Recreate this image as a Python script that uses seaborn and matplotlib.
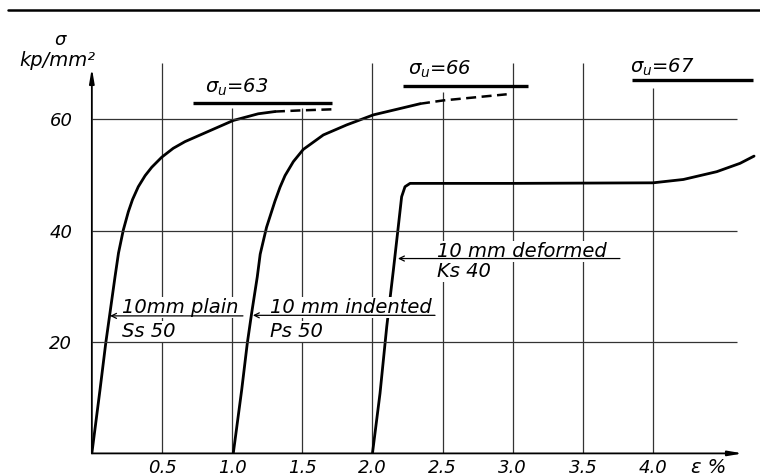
import matplotlib
matplotlib.use("Agg")
import matplotlib.pyplot as plt
from matplotlib.lines import Line2D
import numpy as np
import pandas as pd
import seaborn as sns

# ---------------- data ----------------
ss50_strain = [0, 0.058, 0.099, 0.129, 0.165, 0.19, 0.224, 0.26, 0.29, 0.331, 0.38, 0.427, 0.498, 0.58, 0.664, 0.854, 1.008, 1.186, 1.305]
ss50_stress = [0, 11.4, 19.8, 25.2, 31.7, 36.0, 40.1, 43.4, 45.6, 47.9, 49.9, 51.4, 53.2, 54.8, 56.0, 58.1, 59.8, 61.0, 61.4]
ss50_dash_strain = [1.305, 1.48, 1.71]
ss50_dash_stress = [61.4, 61.6, 61.8]

ps50_strain = [1.008, 1.068, 1.108, 1.139, 1.179, 1.2, 1.245, 1.305, 1.341, 1.377, 1.436, 1.507, 1.65, 1.816, 2.006, 2.173, 2.339]
ps50_stress = [0, 11.4, 19.8, 25.2, 31.7, 35.8, 40.6, 45.3, 47.8, 49.9, 52.4, 54.6, 57.2, 59.0, 60.8, 61.8, 62.8]
ps50_dash_strain = [2.339, 2.505, 2.957]
ps50_dash_stress = [62.8, 63.4, 64.5]

ks40_strain = [2.0, 2.054, 2.102, 2.149, 2.184, 2.208, 2.232, 2.268, 2.315, 3.0, 4.0, 4.216, 4.454, 4.62, 4.72]
ks40_stress = [0, 10.8, 22.8, 32.9, 40.7, 46.1, 47.9, 48.5, 48.5, 48.5, 48.6, 49.2, 50.6, 52.1, 53.4]

sigma_u = [63, 66, 67]
sigma_u_from = [0.718, 2.218, 3.85]
sigma_u_to = [1.709, 3.109, 4.71]

specimen_names = ["10mm plain", "10 mm indented", "10 mm deformed"]
specimen_grades = ["Ss 50", "Ps 50", "Ks 40"]

xtick_values = [0.5, 1.0, 1.5, 2.0, 2.5, 3.0, 3.5, 4.0]
xtick_labels = ["0,5", "1,0", "1,5", "2,0", "2,5", "3,0", "3,5", "4,0"]
ytick_values = [20, 40, 60]
ytick_labels = ["20", "40", "60"]

# ---------------- styling ----------------
sns.set_style("white")
plt.rcParams["font.family"] = ["DejaVu Sans"]
plt.rcParams["mathtext.fontset"] = "dejavusans"
plt.rcParams["lines.solid_joinstyle"] = "round"
plt.rcParams["lines.solid_capstyle"] = "round"
plt.rcParams["text.color"] = "black"
plt.rcParams["xtick.labelcolor"] = "black"
plt.rcParams["ytick.labelcolor"] = "black"
FONT = dict(family=["DejaVu Sans"], style="italic", color="black")

W, H = 760, 473
fig = plt.figure(figsize=(W / 100, H / 100), dpi=100)
x0_px, y0_px = 91.85, 453.4
px_per_x, px_per_y = 140.3, 5.5675
xmax, ymax = 4.75, 80
ax = fig.add_axes([x0_px / W, (H - y0_px) / H, xmax * px_per_x / W, ymax * px_per_y / H])
ax.set_xlim(0, xmax)
ax.set_ylim(0, ymax)
for s in ax.spines.values():
    s.set_visible(False)

# grid lines (different heights as in the drawing)
vtops = [70.1, 62.0, 62.0, 70.1, 64.9, 70.1, 70.1, 65.6]
ax.vlines(xtick_values, 0, vtops, color="#333333", lw=0.9, zorder=1)
ax.hlines(ytick_values, 0, 4.6, color="#333333", lw=0.9, zorder=4)

# curves
solid = pd.DataFrame({
    "strain": ss50_strain + ps50_strain + ks40_strain,
    "stress": ss50_stress + ps50_stress + ks40_stress,
    "spec": ["Ss50"] * len(ss50_strain) + ["Ps50"] * len(ps50_strain) + ["Ks40"] * len(ks40_strain),
})
dashed = pd.DataFrame({
    "strain": ss50_dash_strain + ps50_dash_strain,
    "stress": ss50_dash_stress + ps50_dash_stress,
    "spec": ["Ss50"] * len(ss50_dash_strain) + ["Ps50"] * len(ps50_dash_strain),
})
sns.lineplot(data=solid, x="strain", y="stress", units="spec", estimator=None, sort=False,
             color="black", lw=2.0, ax=ax, zorder=2)
sns.lineplot(data=dashed, x="strain", y="stress", units="spec", estimator=None, sort=False,
             color="black", lw=1.8, ax=ax, zorder=2)
for ln in ax.get_lines()[-2:]:
    ln.set_dashes((4, 2.2))

# sigma_u bars + labels
ax.hlines(sigma_u, sigma_u_from, sigma_u_to, color="black", lw=2.4, zorder=2, clip_on=False)
su_pos = [(0.81, 63.9), (2.254, 67.0), (3.835, 67.5)]
for val, (tx, ty) in zip(sigma_u, su_pos):
    ax.text(tx, ty, r"$\sigma_u$" + f"={val}", ha="left", va="bottom", fontsize=14, **FONT)

# specimen labels with underline + arrow
name_pos = [(0.215, 25.2), (1.27, 25.2), (2.46, 35.3)]
grade_pos = [(0.215, 20.9), (1.27, 20.9), (2.46, 31.6)]
under = [(0.13, 1.077, 24.7), (1.148, 2.446, 24.8), (2.182, 3.764, 35.0)]
bb = dict(facecolor="white", edgecolor="none", pad=0.6)
for nm, gr, (nx, ny), (gx, gy), (a0, a1, uy) in zip(specimen_names, specimen_grades, name_pos, grade_pos, under):
    ax.text(nx, ny, nm, ha="left", va="baseline", fontsize=14, bbox=bb, zorder=3, **FONT)
    ax.text(gx, gy, gr, ha="left", va="baseline", fontsize=14, bbox=bb, zorder=3, **FONT)
    ax.annotate("", xy=(a0, uy), xytext=(a1, uy),
                arrowprops=dict(arrowstyle="->", lw=0.9, color="black", mutation_scale=9,
                                shrinkA=0, shrinkB=0), zorder=5)

# axes with arrows
ax.annotate("", xy=(0, 69.2), xytext=(0, 0),
            arrowprops=dict(arrowstyle="-|>,head_width=0.12,head_length=0.7", lw=1.3, color="black",
                            shrinkA=0, shrinkB=0, mutation_scale=12), zorder=5)
ax.annotate("", xy=(4.64, 0), xytext=(0, 0),
            arrowprops=dict(arrowstyle="-|>,head_width=0.12,head_length=0.7", lw=1.3, color="black",
                            shrinkA=0, shrinkB=0, mutation_scale=12), zorder=5)

# ticks
ax.set_xticks(xtick_values)
ax.set_xticklabels(xtick_labels)
ax.set_yticks(ytick_values)
ax.set_yticklabels(ytick_labels)
ax.tick_params(axis="both", length=0, labelsize=13, labelcolor="black")
ax.tick_params(axis="x", pad=4)
ax.tick_params(axis="y", pad=14)
for lab in ax.get_xticklabels() + ax.get_yticklabels():
    lab.set_fontstyle("italic")
ax.set_xlabel("")
ax.set_ylabel("")

# axis captions
ax.text(4.27, -0.9, "ε %", ha="left", va="top", fontsize=14, clip_on=False, **FONT)
fig.text(60 / W, 1 - 40 / H, "σ", ha="center", va="center", fontsize=13, **FONT)
fig.text(57 / W, 1 - 60 / H, "kp/mm²", ha="center", va="center", fontsize=14, **FONT)

# top rule
fig.add_artist(Line2D([8 / W, 1.0], [1 - 10 / H, 1 - 10 / H], transform=fig.transFigure,
                      color="black", lw=1.8))

fig.savefig("out.png", dpi=100)
